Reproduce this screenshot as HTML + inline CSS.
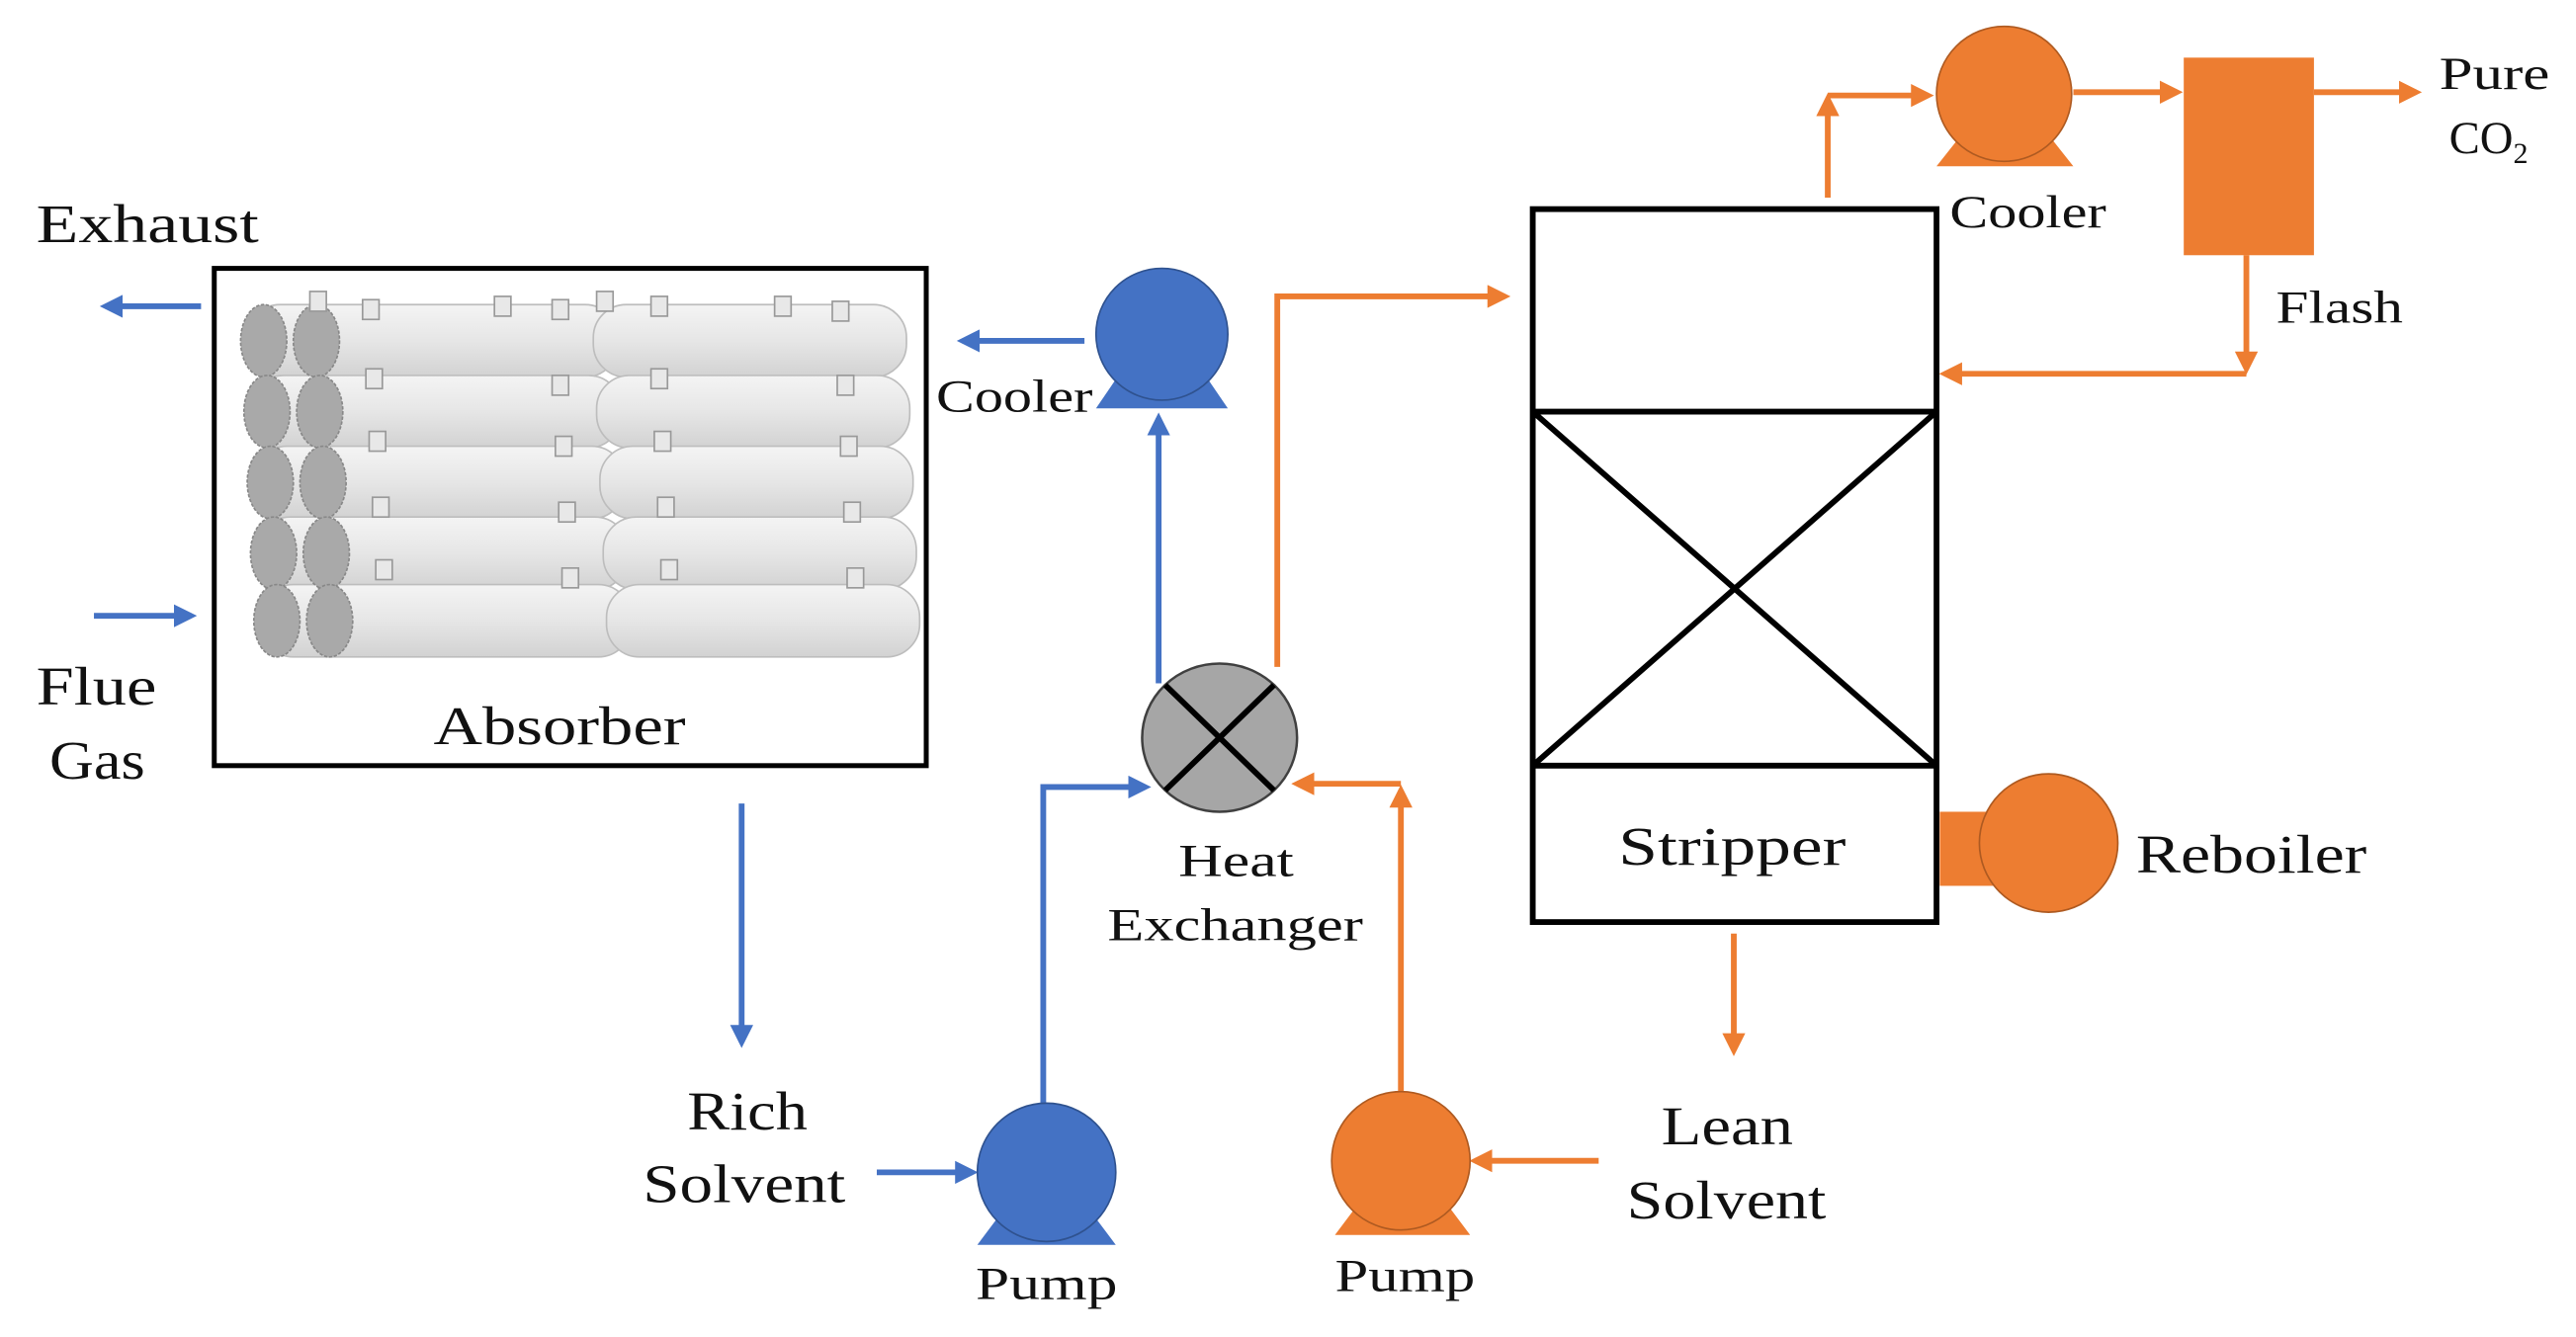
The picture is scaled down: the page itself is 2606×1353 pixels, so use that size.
<!DOCTYPE html>
<html><head><meta charset="utf-8"><style>
html,body{margin:0;padding:0;background:#fff;}
svg{display:block;}
text{font-family:"Liberation Serif",serif;fill:#111;}
</style></head><body>
<svg width="2606" height="1353" viewBox="0 0 1563 812" preserveAspectRatio="none" xmlns="http://www.w3.org/2000/svg">
<defs>
<marker id="ab" markerWidth="4" markerHeight="4" refX="3" refY="2" orient="auto" markerUnits="strokeWidth"><path d="M0,0 L4,2 L0,4 z" fill="#4472c4"/></marker>
<marker id="ao" markerWidth="4" markerHeight="4" refX="3" refY="2" orient="auto" markerUnits="strokeWidth"><path d="M0,0 L4,2 L0,4 z" fill="#ed7d31"/></marker>
<linearGradient id="cyl" x1="0" y1="0" x2="0" y2="1">
<stop offset="0" stop-color="#f4f4f4"/><stop offset="0.5" stop-color="#e6e6e6"/><stop offset="1" stop-color="#d2d2d2"/></linearGradient>
</defs>
<g stroke="#4472c4" stroke-width="3.5" fill="none" marker-end="url(#ab)">
<line x1="122" y1="186" x2="64" y2="186"/>
<line x1="57" y1="374" x2="116" y2="374"/>
<line x1="658" y1="207" x2="584" y2="207"/>
<line x1="703" y1="415" x2="703" y2="254"/>
<line x1="450" y1="488" x2="450" y2="633"/>
<line x1="532" y1="712" x2="590" y2="712"/>
<polyline points="633,672 633,478 695,478"/>
</g>
<g stroke="#ed7d31" stroke-width="3.5" fill="none" marker-end="url(#ao)">
<line x1="970" y1="705" x2="895" y2="705"/>
<line x1="850" y1="665" x2="850" y2="480"/>
<line x1="850" y1="476" x2="787" y2="476"/>
<polyline points="775,405 775,180 913,180"/>
<line x1="1052" y1="567" x2="1052" y2="638"/>
<line x1="1109" y1="120" x2="1109" y2="60"/>
<line x1="1109" y1="58" x2="1170" y2="58"/>
<line x1="1258" y1="56" x2="1321" y2="56"/>
<line x1="1404" y1="56" x2="1466" y2="56"/>
<line x1="1363" y1="155" x2="1363" y2="224"/>
<line x1="1363" y1="227" x2="1180" y2="227"/>
</g>
<rect x="130" y="163" width="432" height="302" fill="#fff" stroke="#000" stroke-width="3"/>
<g stroke="#bdbdbd" stroke-width="1">
<rect x="150" y="185" width="225" height="44" rx="20" fill="url(#cyl)"/>
<rect x="360" y="185" width="190" height="44" rx="20" fill="url(#cyl)"/>
<rect x="152" y="228" width="225" height="44" rx="20" fill="url(#cyl)"/>
<rect x="362" y="228" width="190" height="44" rx="20" fill="url(#cyl)"/>
<rect x="154" y="271" width="225" height="44" rx="20" fill="url(#cyl)"/>
<rect x="364" y="271" width="190" height="44" rx="20" fill="url(#cyl)"/>
<rect x="156" y="314" width="225" height="44" rx="20" fill="url(#cyl)"/>
<rect x="366" y="314" width="190" height="44" rx="20" fill="url(#cyl)"/>
<rect x="158" y="355" width="225" height="44" rx="20" fill="url(#cyl)"/>
<rect x="368" y="355" width="190" height="44" rx="20" fill="url(#cyl)"/>
<g fill="#a9a9a9" stroke="#888" stroke-dasharray="2,1">
<ellipse cx="160" cy="207" rx="14" ry="22"/><ellipse cx="192" cy="207" rx="14" ry="22"/>
<ellipse cx="162" cy="250" rx="14" ry="22"/><ellipse cx="194" cy="250" rx="14" ry="22"/>
<ellipse cx="164" cy="293" rx="14" ry="22"/><ellipse cx="196" cy="293" rx="14" ry="22"/>
<ellipse cx="166" cy="336" rx="14" ry="22"/><ellipse cx="198" cy="336" rx="14" ry="22"/>
<ellipse cx="168" cy="377" rx="14" ry="22"/><ellipse cx="200" cy="377" rx="14" ry="22"/>
</g>
<g fill="#e8e8e8" stroke="#999">
<rect x="188" y="177" width="10" height="12"/><rect x="220" y="182" width="10" height="12"/><rect x="300" y="180" width="10" height="12"/><rect x="335" y="182" width="10" height="12"/>
<rect x="362" y="177" width="10" height="12"/><rect x="395" y="180" width="10" height="12"/><rect x="470" y="180" width="10" height="12"/><rect x="505" y="183" width="10" height="12"/>
<rect x="222" y="224" width="10" height="12"/><rect x="335" y="228" width="10" height="12"/><rect x="395" y="224" width="10" height="12"/><rect x="508" y="228" width="10" height="12"/>
<rect x="224" y="262" width="10" height="12"/><rect x="337" y="265" width="10" height="12"/><rect x="397" y="262" width="10" height="12"/><rect x="510" y="265" width="10" height="12"/>
<rect x="226" y="302" width="10" height="12"/><rect x="339" y="305" width="10" height="12"/><rect x="399" y="302" width="10" height="12"/><rect x="512" y="305" width="10" height="12"/>
<rect x="228" y="340" width="10" height="12"/><rect x="341" y="345" width="10" height="12"/><rect x="401" y="340" width="10" height="12"/><rect x="514" y="345" width="10" height="12"/>
</g>
</g>
<path d="M665,248 L680,226 L730,226 L745,248 Z" fill="#4472c4"/>
<circle cx="705" cy="203" r="40" fill="#4472c4" stroke="#2f528f" stroke-width="1"/>
<ellipse cx="740" cy="448" rx="47" ry="45" fill="#a6a6a6" stroke="#404040" stroke-width="1.5"/>
<g stroke="#000" stroke-width="3.5"><line x1="707" y1="416" x2="773" y2="480"/><line x1="773" y1="416" x2="707" y2="480"/></g>
<path d="M593,756 L608,736 L662,736 L677,756 Z" fill="#4472c4"/>
<circle cx="635" cy="712" r="42" fill="#4472c4" stroke="#2f528f" stroke-width="1"/>
<path d="M810,750 L825,730 L877,730 L892,750 Z" fill="#ed7d31"/>
<circle cx="850" cy="705" r="42" fill="#ed7d31" stroke="#ae5a21" stroke-width="1"/>
<rect x="930" y="127" width="245" height="433" fill="none" stroke="#000" stroke-width="3.5"/>
<g stroke="#000" stroke-width="3.5"><line x1="930" y1="250" x2="1175" y2="250"/><line x1="930" y1="465" x2="1175" y2="465"/>
<line x1="930" y1="250" x2="1175" y2="465"/><line x1="1175" y1="250" x2="930" y2="465"/></g>
<rect x="1177" y="493" width="40" height="45" fill="#ed7d31"/>
<circle cx="1243" cy="512" r="42" fill="#ed7d31" stroke="#ae5a21" stroke-width="1"/>
<path d="M1175,101 L1190,82 L1243,82 L1258,101 Z" fill="#ed7d31"/>
<circle cx="1216" cy="57" r="41" fill="#ed7d31" stroke="#ae5a21" stroke-width="1"/>
<rect x="1325" y="35" width="79" height="120" fill="#ed7d31"/>
<g font-size="33" lengthAdjust="spacingAndGlyphs">
<text x="22" y="147" textLength="135" lengthAdjust="spacingAndGlyphs">Exhaust</text>
<text x="22" y="428" textLength="73" lengthAdjust="spacingAndGlyphs">Flue</text>
<text x="30" y="473" textLength="58" lengthAdjust="spacingAndGlyphs">Gas</text>
<text x="263" y="452" textLength="153" lengthAdjust="spacingAndGlyphs">Absorber</text>
<text x="417" y="686" textLength="73" lengthAdjust="spacingAndGlyphs">Rich</text>
<text x="390" y="730" textLength="123" lengthAdjust="spacingAndGlyphs">Solvent</text>
<text x="1008" y="695" textLength="80" lengthAdjust="spacingAndGlyphs">Lean</text>
<text x="987" y="740" textLength="121" lengthAdjust="spacingAndGlyphs">Solvent</text>
<text x="982" y="525" textLength="138" lengthAdjust="spacingAndGlyphs">Stripper</text>
<text x="1296" y="530" textLength="140" lengthAdjust="spacingAndGlyphs">Reboiler</text>
</g>
<g font-size="28">
<text x="568" y="250" textLength="95" lengthAdjust="spacingAndGlyphs">Cooler</text>
<text x="715" y="532" textLength="70" lengthAdjust="spacingAndGlyphs">Heat</text>
<text x="672" y="571" textLength="155" lengthAdjust="spacingAndGlyphs">Exchanger</text>
<text x="592" y="789" textLength="86" lengthAdjust="spacingAndGlyphs">Pump</text>
<text x="810" y="784" textLength="85" lengthAdjust="spacingAndGlyphs">Pump</text>
<text x="1183" y="138" textLength="95" lengthAdjust="spacingAndGlyphs">Cooler</text>
<text x="1381" y="196" textLength="77" lengthAdjust="spacingAndGlyphs">Flash</text>
<text x="1480" y="54" textLength="67" lengthAdjust="spacingAndGlyphs">Pure</text>
<text x="1486" y="93">CO<tspan font-size="18" dy="6">2</tspan></text>
</g>
</svg>
</body></html>
